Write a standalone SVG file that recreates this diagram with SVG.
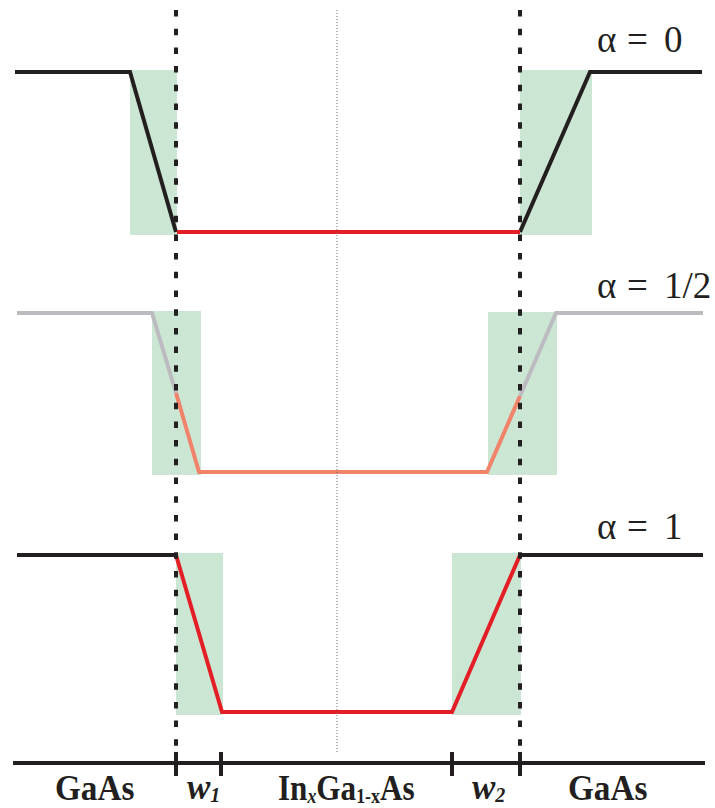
<svg xmlns="http://www.w3.org/2000/svg" width="715" height="808" viewBox="0 0 715 808">
<style>
.bg{fill:#cce6d4}
.blk{fill:none;stroke:#231f20;stroke-width:4;stroke-linejoin:miter}
.red{fill:none;stroke:#e31e26;stroke-width:4}
.org{fill:none;stroke:#f0836a;stroke-width:4}
.gry{fill:none;stroke:#bcbcc0;stroke-width:4}
.dash{fill:none;stroke:#231f20;stroke-width:4;stroke-dasharray:6.5 12.2}
.dot{fill:none;stroke:#6d6e71;stroke-width:1;stroke-dasharray:1 2}
.lbl{font-family:"Liberation Serif","Times New Roman",serif;font-size:37px;fill:#231f20}
.ax{font-family:"Liberation Serif","Times New Roman",serif;font-size:35px;font-weight:bold;fill:#231f20}
.sub{font-size:20px}
</style>
<g id="panel-alpha0">
<rect class="bg" x="130" y="70" width="47" height="165"/>
<rect class="bg" x="520" y="70" width="72" height="165"/>
<polyline class="blk" points="15,72 130,72 176,232"/>
<polyline class="blk" points="520,232 590,72 702,72"/>
<line class="red" x1="177" y1="232" x2="520" y2="232"/>
<text class="lbl" y="52"><tspan x="597">α</tspan><tspan x="627">=</tspan><tspan x="664">0</tspan></text>
</g>
<g id="panel-alpha-half">
<rect class="bg" x="152" y="311" width="49" height="164"/>
<rect class="bg" x="488" y="312" width="69" height="163"/>
<polyline class="gry" points="17,313 152,313 176,393"/>
<polyline class="org" points="176,393 199,472 487,472 520,396"/>
<polyline class="gry" points="520,396 556,313 703,313"/>
<text class="lbl" y="298"><tspan x="597">α</tspan><tspan x="627">=</tspan><tspan x="664">1/2</tspan></text>
</g>
<g id="panel-alpha1">
<rect class="bg" x="176" y="553" width="47" height="162"/>
<rect class="bg" x="452" y="553" width="69" height="162"/>
<line class="blk" x1="17" y1="555" x2="177" y2="555"/>
<polyline class="red" points="176,555 222,712 452,712 520,555"/>
<line class="blk" x1="519" y1="555" x2="703" y2="555"/>
<text class="lbl" y="539"><tspan x="597">α</tspan><tspan x="627">=</tspan><tspan x="664">1</tspan></text>
</g>
<g id="guides">
<line class="dash" x1="176" y1="10" x2="176" y2="752"/>
<line class="dash" x1="520" y1="10" x2="520" y2="752"/>
<line class="dot" x1="337" y1="10" x2="337" y2="752"/>
</g>
<g id="axis">
<line class="blk" x1="13" y1="763" x2="705" y2="763"/>
<line class="blk" x1="176" y1="752" x2="176" y2="776"/>
<line class="blk" x1="221" y1="752" x2="221" y2="776"/>
<line class="blk" x1="452" y1="752" x2="452" y2="776"/>
<line class="blk" x1="520" y1="752" x2="520" y2="776"/>
<text class="ax" transform="translate(55,800) scale(0.95,1)">GaAs</text>
<text class="ax" x="187" y="799" font-style="italic">w<tspan class="sub" dy="3">1</tspan></text>
<text class="ax" transform="translate(278,800) scale(0.89,1)">In<tspan class="sub" dy="3" font-style="italic">x</tspan><tspan dy="-3">Ga</tspan><tspan class="sub" dy="3">1-x</tspan><tspan dy="-3">As</tspan></text>
<text class="ax" x="472" y="799" font-style="italic">w<tspan class="sub" dy="3">2</tspan></text>
<text class="ax" transform="translate(568,800) scale(0.95,1)">GaAs</text>
</g>
</svg>
